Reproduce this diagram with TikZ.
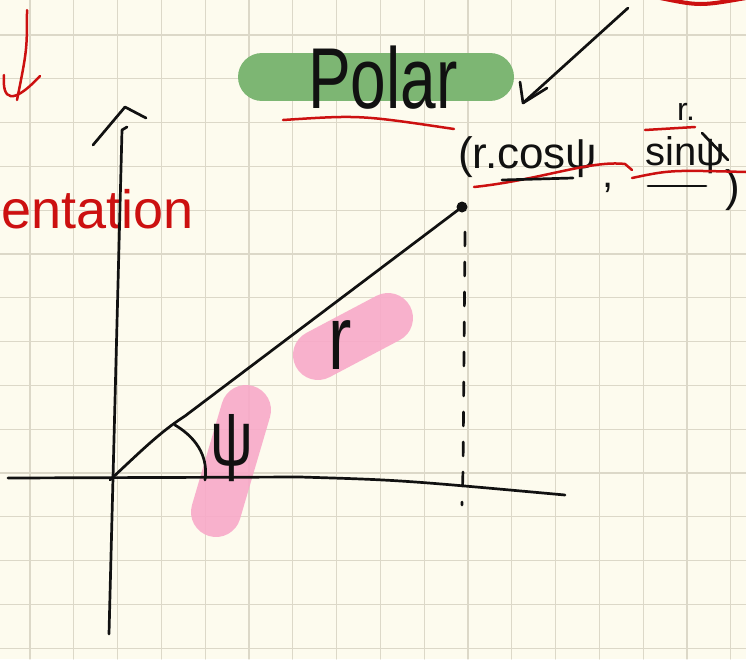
\documentclass[tikz,border=0pt]{standalone}
\usepackage{fontspec}
\setmainfont{Liberation Sans}
\usetikzlibrary{arrows.meta,positioning,calc}
\definecolor{Paper}{HTML}{FDFBEE}
\definecolor{Grid}{HTML}{DCD8C8}
\definecolor{Marker}{HTML}{7DB673}
\definecolor{Pink}{HTML}{F8A9C9}
\definecolor{Ink}{HTML}{111111}
\definecolor{Pen}{HTML}{CC1010}

\begin{document}
\begin{tikzpicture}[x=1pt,y=-1pt,line cap=round,line join=round,
    ink/.style={Ink,line width=2.7pt},
    pen/.style={Pen,line width=2.5pt},
    hl/.style={line width=#1,line cap=round},
    txt/.style={inner sep=0pt,text=Ink}]
  \useasboundingbox (0,0) rectangle (746,659);
  \clip (0,0) rectangle (746,659);
  \fill[Paper] (0,0) rectangle (746,659);
  \foreach \i in {0,...,16} \draw[Grid,line width=1.2pt] ({30+43.8*\i},0) -- ({30+43.8*\i},659);
  \foreach \j in {0,...,14} \draw[Grid,line width=1.2pt] (0,{35+43.8*\j}) -- (746,{35+43.8*\j});
  \draw[Marker,hl=48pt] (262,77) -- (490,77);
  \draw[Pink,hl=50pt,opacity=.9] (318,355) -- (388,318);
  \draw[Pink,hl=50pt,opacity=.9] (246,410) -- (216,512);

  \node[txt,font=\fontsize{64}{64}\selectfont] (polar) at (383,78) {\scalebox{1}[1.35]{Polar}};
  \draw[pen] (283,120) .. controls (360,115) .. (454,129);
  \node[txt,font=\fontsize{54}{54}\selectfont,text=Pen,anchor=base west] (ent) at (1,228) {entation};
  \draw[pen] (27,10) .. controls (27,50) .. (17,100);
  \draw[pen] (4,75) .. controls (2,100) and (12,106) .. (40,76);
  \draw[pen,line width=4pt] (660,-2) .. controls (700,6) .. (746,-2);

  \coordinate (O) at (110,480);
  \coordinate (P) at (462,207);
  \draw[ink] (109,634) .. controls (115,400) .. (122,130) -- (127,127);
  \draw[ink] (93,145) -- (125,107) -- (146,118);
  \draw[ink] (8,478) -- (300,477) .. controls (400,480) .. (565,495);
  \draw[ink] (O) .. controls (140,452) and (160,432) .. (185,416) -- (P);
  \fill[Ink] (P) circle (5.5);
  \draw[ink,dash pattern=on 14pt off 16pt] (465,232) -- (463,470) -- (462,505);
  \draw[ink] (175,425) .. controls (200,440) and (208,460) .. (205,480);
  \node[txt,font=\fontsize{70}{70}\selectfont] (rr) at (340,345) {\scalebox{1}[1.3]{r}};
  \node[txt,font=\fontsize{60}{60}\selectfont] (psi) at (232,448) {\scalebox{1}[1.3]{ψ}};

  \node[txt,font=\fontsize{44}{44}\selectfont,anchor=base west] (cosxy) at (458,168) {(r.cosψ};
  \node[txt,font=\fontsize{40}{40}\selectfont] (comma) at (608,188) {,};
  \node[txt,font=\fontsize{32}{32}\selectfont] (rdot) at (686,112) {r.};
  \node[txt,font=\fontsize{40}{40}\selectfont,anchor=base west] (sinxy) at (645,165) {sinψ};
  \node[txt,font=\fontsize{44}{44}\selectfont] (close) at (733,190) {)};
  \coordinate (tip) at (523,103);
  \draw[ink] (628,8) -- (tip);
  \draw[ink] (520,82) -- (tip) -- (547,88);
  \draw[pen] (474,187) .. controls (540,180) and (590,160) .. (625,164) -- (632,170);
  \draw[ink] (502,180) -- (573,178);
  \draw[pen] (645,130) -- (695,127);
  \draw[pen] (632,178) .. controls (670,170) .. (746,172);
  \draw[ink] (648,186) -- (706,186);
  \draw[ink] (702,133) -- (728,160);
\end{tikzpicture}
\end{document}
